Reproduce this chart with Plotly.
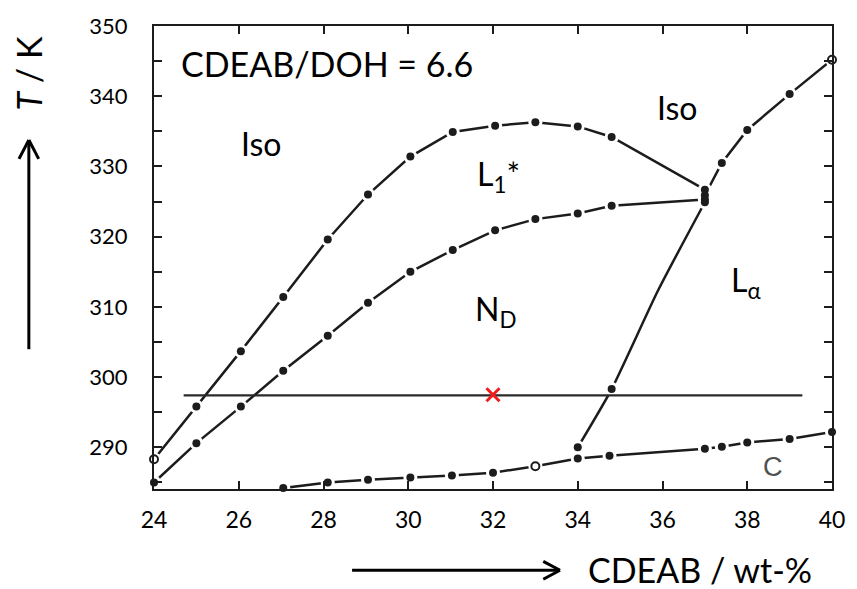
import plotly.graph_objects as go

# ---------------- data ----------------
# Iso / (L1*, N_D) upper boundary
a_x = [24.0, 25.0, 26.05, 27.05, 28.1, 29.05, 30.05, 31.05, 32.05, 33.0, 34.0, 34.8, 37.0]
a_y = [288.3, 295.8, 303.7, 311.4, 319.6, 326.0, 331.4, 334.9, 335.8, 336.3, 335.7, 334.2, 326.7]
# L1* / N_D boundary
b_x = [24.0, 25.0, 26.05, 27.05, 28.1, 29.05, 30.05, 31.05, 32.05, 33.0, 34.0, 34.8, 37.0]
b_y = [285.0, 290.6, 295.8, 300.9, 305.9, 310.6, 315.0, 318.1, 320.9, 322.5, 323.3, 324.4, 325.3]
# Iso / L_alpha boundary
c_x = [37.0, 37.4, 38.0, 39.0, 40.0]
c_y = [325.9, 330.5, 335.2, 340.3, 345.2]
# N_D / L_alpha boundary (line vertices and measured points)
d_line_x = [37.0, 35.9, 34.8, 34.0]
d_line_y = [324.9, 312.4, 298.3, 290.0]
d_x = [37.0, 34.8, 34.0]
d_y = [324.9, 298.3, 290.0]
# crystalline (C) boundary
e_x = [27.05, 28.1, 29.05, 30.05, 31.03, 32.0, 33.0, 34.0, 34.75, 37.0, 37.4, 38.0, 39.0, 40.0]
e_y = [284.2, 285.0, 285.4, 285.7, 286.0, 286.4, 287.3, 288.4, 288.8, 289.8, 290.1, 290.7, 291.2, 292.2]
# hollow measurement points
hollow_x = [24.0, 33.0, 40.0]
hollow_y = [288.3, 287.3, 345.2]
# isotherm of the experiment and the sample composition
iso_line_x = [24.7, 39.3]
iso_line_y = [297.4, 297.4]
sample_x = [32.0]
sample_y = [297.5]

x_ticks = [24, 26, 28, 30, 32, 34, 36, 38, 40]
y_ticks = [290, 300, 310, 320, 330, 340, 350]

# ---------------- figure ----------------
INK = "#1c1c1c"
FONT = "Lato"
fig = go.Figure()

curves = [(a_x, a_y, "linear"), (b_x, b_y, "linear"), (c_x, c_y, "linear"),
          (d_line_x, d_line_y, "spline"), (e_x, e_y, "linear")]
for xs, ys, shp in curves:
    fig.add_trace(go.Scatter(x=xs, y=ys, mode="lines",
                             line=dict(color=INK, width=2.5, shape=shp, smoothing=0.6),
                             hoverinfo="skip", showlegend=False))

point_sets = [(a_x, a_y), (b_x, b_y), (c_x, c_y), (d_x, d_y), (e_x, e_y)]
# white halos that open small gaps in the lines around every measured point
for xs, ys in point_sets:
    fig.add_trace(go.Scatter(x=xs, y=ys, mode="markers", cliponaxis=False,
                             marker=dict(color="white", size=14, line=dict(width=0)),
                             showlegend=False, hoverinfo="skip"))

fig.add_trace(go.Scatter(x=iso_line_x, y=iso_line_y, mode="lines",
                         line=dict(color="#2a2a2a", width=2.2), showlegend=False, hoverinfo="skip"))

hollow = set(zip(hollow_x, hollow_y))
for xs, ys in point_sets:
    px_ = [x for x, y in zip(xs, ys) if (x, y) not in hollow]
    py_ = [y for x, y in zip(xs, ys) if (x, y) not in hollow]
    fig.add_trace(go.Scatter(x=px_, y=py_, mode="markers", cliponaxis=False,
                             marker=dict(color=INK, size=8, line=dict(width=0)),
                             showlegend=False, hoverinfo="skip"))

fig.add_trace(go.Scatter(x=hollow_x, y=hollow_y, mode="markers", cliponaxis=False,
                         marker=dict(color="white", size=8, symbol="circle",
                                     line=dict(color=INK, width=2)),
                         showlegend=False, hoverinfo="skip"))

fig.add_trace(go.Scatter(x=sample_x, y=sample_y, mode="markers",
                         marker=dict(symbol="x-thin", size=13, color="#ee1c1c",
                                     line=dict(color="#ee1c1c", width=3)),
                         showlegend=False, hoverinfo="skip"))

ann = [
    dict(x=24.6, y=344.6, text="CDEAB/DOH = 6.6", xanchor="left", size=34),
    dict(x=26.53, y=333.3, text="Iso", size=32),
    dict(x=36.35, y=338.4, text="Iso", size=32),
    dict(x=32.14, y=328.6, text="L<sub>1</sub>*", size=32),
    dict(x=32.07, y=309.4, text="N<sub>D</sub>", size=32),
    dict(x=37.98, y=313.6, text="L<sub>α</sub>", size=32),
]
for a in ann:
    fig.add_annotation(x=a["x"], y=a["y"], xref="x", yref="y", text=a["text"],
                       showarrow=False, xanchor=a.get("xanchor", "center"), yanchor="middle",
                       font=dict(family=FONT, size=a["size"], color="black"))
fig.add_annotation(x=38.6, y=287.2, xref="x", yref="y", text="C", showarrow=False,
                   font=dict(family="Liberation Sans", size=27, color="#505050"))

# axis titles (outside the plot area)
L, R, T, B = 154, 842, 22, 489
def px(xp):
    return (xp - L) / (R - L)
def py(yp):
    return (B - yp) / (B - T)

fig.add_annotation(x=px(708), y=py(570), xref="paper", yref="paper", text="CDEAB / wt-%",
                   showarrow=False, xanchor="center", yanchor="middle",
                   font=dict(family=FONT, size=34, color="black"))
fig.add_annotation(x=px(27), y=py(70), xref="paper", yref="paper", text="<i>T</i> / K",
                   textangle=-90, showarrow=False, xanchor="center", yanchor="middle",
                   font=dict(family=FONT, size=34, color="black"))

arrow = dict(color="black", width=3)
shapes = [
    dict(type="line", x0=px(355), x1=px(566), y0=py(571), y1=py(571)),
    dict(type="line", x0=px(549), x1=px(566), y0=py(562), y1=py(571)),
    dict(type="line", x0=px(549), x1=px(566), y0=py(580), y1=py(571)),
    dict(type="line", x0=px(27), x1=px(27), y0=py(348), y1=py(137)),
    dict(type="line", x0=px(17), x1=px(27), y0=py(156), y1=py(137)),
    dict(type="line", x0=px(37), x1=px(27), y0=py(156), y1=py(137)),
]
for s in shapes:
    fig.add_shape(xref="paper", yref="paper", line=arrow, **s)

fig.update_layout(
    width=857, height=589, autosize=False,
    margin=dict(l=L, r=857 - R, t=T, b=589 - B),
    paper_bgcolor="white", plot_bgcolor="white",
    showlegend=False,
    font=dict(family=FONT, color="black"),
)
fig.update_xaxes(range=[24, 40], tickvals=x_ticks, ticks="inside", ticklen=8, tickwidth=2,
                 tickcolor=INK, showline=True, linecolor=INK, linewidth=2, mirror="ticks",
                 showgrid=False, zeroline=False, tickfont=dict(family=FONT, size=23),
                 ticklabelstandoff=9)
fig.update_yaxes(range=[284.07, 350], tickvals=y_ticks, ticks="inside",
                 ticklen=8, tickwidth=2, tickcolor=INK, showline=True, linecolor=INK,
                 linewidth=2, mirror="ticks", showgrid=False, zeroline=False,
                 minor=dict(tick0=285, dtick=5, ticks="inside", ticklen=8, tickwidth=2,
                            tickcolor=INK, showgrid=False),
                 tickfont=dict(family=FONT, size=22), ticklabelstandoff=20)

fig.write_html("out.html")
